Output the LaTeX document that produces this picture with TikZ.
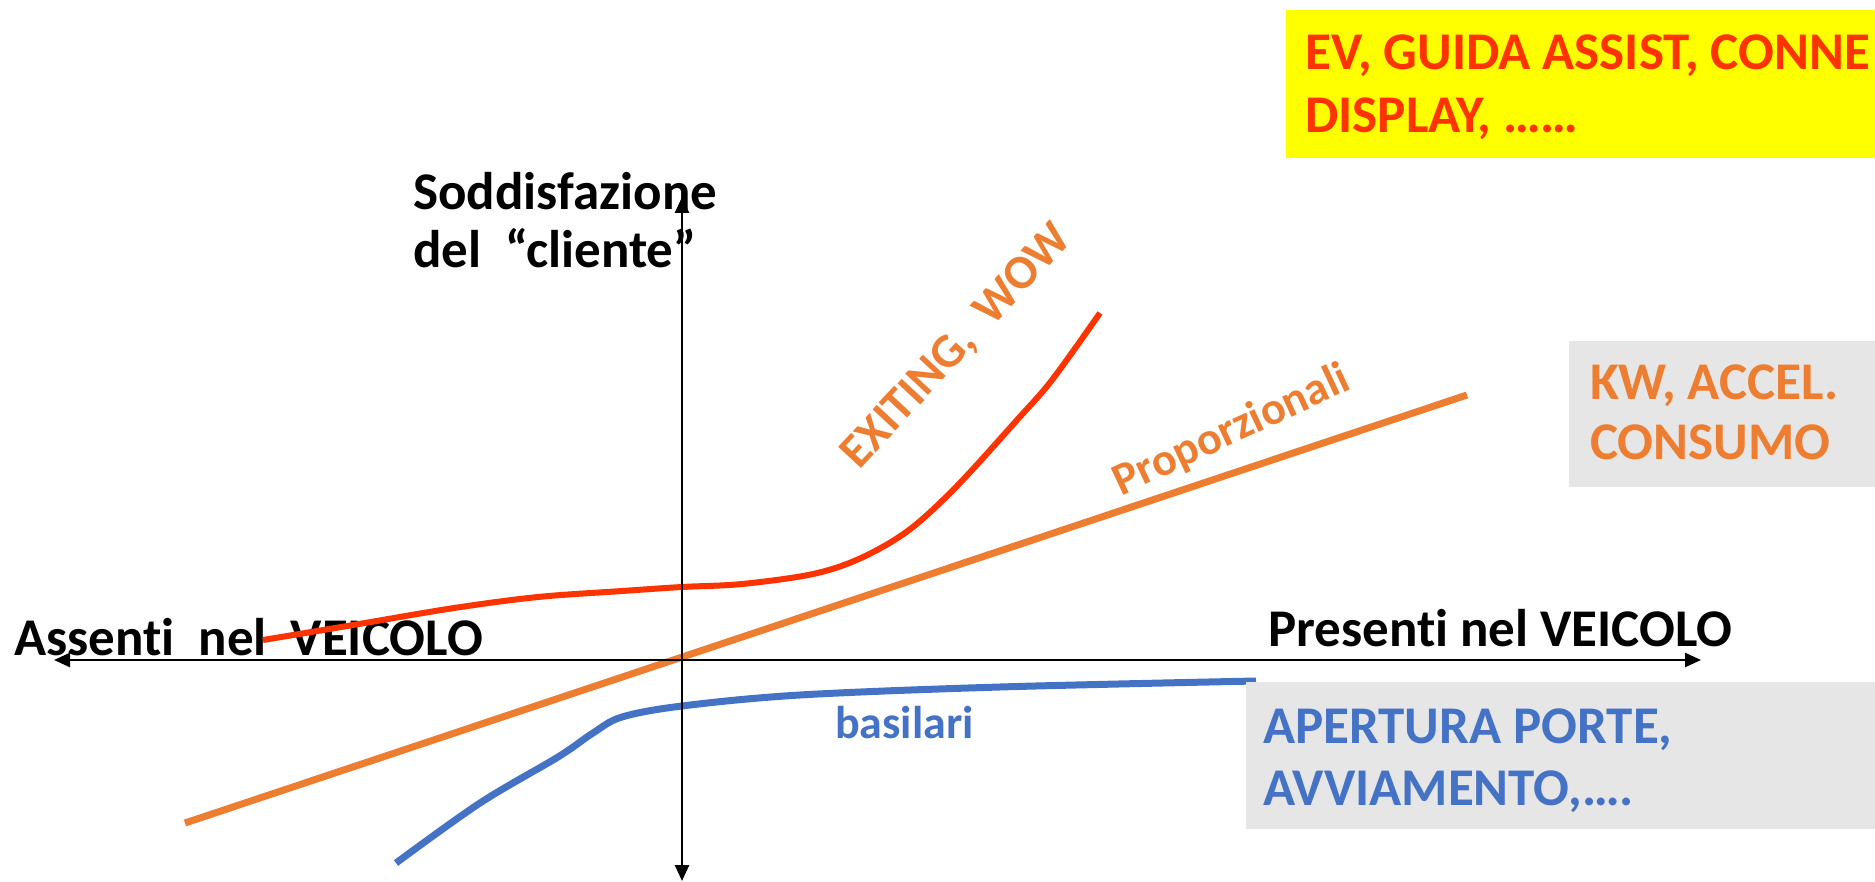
\documentclass[tikz,border=0pt]{standalone}
\usepackage{fontspec}
\setmainfont[Ligatures=NoCommon]{Carlito}
\usetikzlibrary{arrows.meta}
\definecolor{cRed}{HTML}{FF3300}
\definecolor{cOrange}{HTML}{ED7D31}
\definecolor{cBlue}{HTML}{4472C4}
\definecolor{cGrey}{HTML}{E7E6E6}
\definecolor{cYellow}{HTML}{FFFF00}
\tikzset{
  big/.style={inner sep=0pt, anchor=base west, font=\fontsize{53}{64}\selectfont\bfseries},
  mid/.style={inner sep=0pt, font=\fontsize{46}{56}\selectfont\bfseries},
  axisline/.style={line width=2.5pt, {Triangle[length=16pt,width=14pt]}-{Triangle[length=16pt,width=14pt]}},
}
\begin{document}
\begin{tikzpicture}[x=1pt,y=-1pt]
\useasboundingbox (0,0) rectangle (1875,882);
% axis labels
\node[big] (ylab1) at (413,210) {Soddisfazione};
\node[big] (ylab2) at (413,268) {del\ \ “cliente”};
\node[big] (xneg) at (14,655) {Assent\kern0pt i\ \ nel\ \ VEICOLO};
\node[big] (xpos) at (1268,646) {Present\kern0pt i nel VEICOLO};
% curves
\draw[cOrange, line width=7pt] (185,823) -- (1467,395);
\draw[cRed, line width=6pt] plot[smooth, tension=0.55] coordinates {(263,640) (359,624) (454,608) (538,597) (622,591) (682,587) (742,584) (813,574) (861,558) (909,530) (957,486) (1017,420) (1052,380) (1100,313)};
\draw[cBlue, line width=7pt] plot[smooth, tension=0.55] coordinates {(396,863) (480,803) (558,757) (593,733) (622,717) (682,706) (800,695) (1000,687) (1256,681)};
% curve labels
\node[mid, text=cOrange, rotate=47, font=\fontsize{48}{58}\selectfont\bfseries] (wow) at (957,347) {EXITING,\ \ WOW};
\node[mid, text=cOrange, rotate=25, font=\fontsize{46}{56}\selectfont\bfseries] (prop) at (1232,431) {Proporzionali};
\node[mid, text=cBlue, anchor=base west] (bas) at (835,738) {basilari};
% axes
\coordinate (xl) at (54,660);
\coordinate (xr) at (1701,660);
\coordinate (yt) at (682,197);
\coordinate (yb) at (682,881);
\draw[axisline] (xl) -- (xr);
\draw[axisline] (yb) -- (yt);
% boxes
\fill[cYellow] (1286,10) rectangle (1875,158);
\fill[cGrey] (1569,341) rectangle (1875,487);
\fill[cGrey] (1246,682) rectangle (1875,829);
\node[big, text=cRed] (ev1) at (1305,70) {EV, GUIDA ASSIST, CONNE};
\node[big, text=cRed] (ev2) at (1305,133) {DISPLAY, ……};
\node[big, text=cOrange] (kw1) at (1590,400) {KW, ACCEL.};
\node[big, text=cOrange] (kw2) at (1590,460) {CONSUMO};
\node[big, text=cBlue] (ap1) at (1263,743) {APERTURA PORTE,};
\node[big, text=cBlue] (ap2) at (1263,805) {AVVIAMENTO,….};
\end{tikzpicture}
\end{document}
